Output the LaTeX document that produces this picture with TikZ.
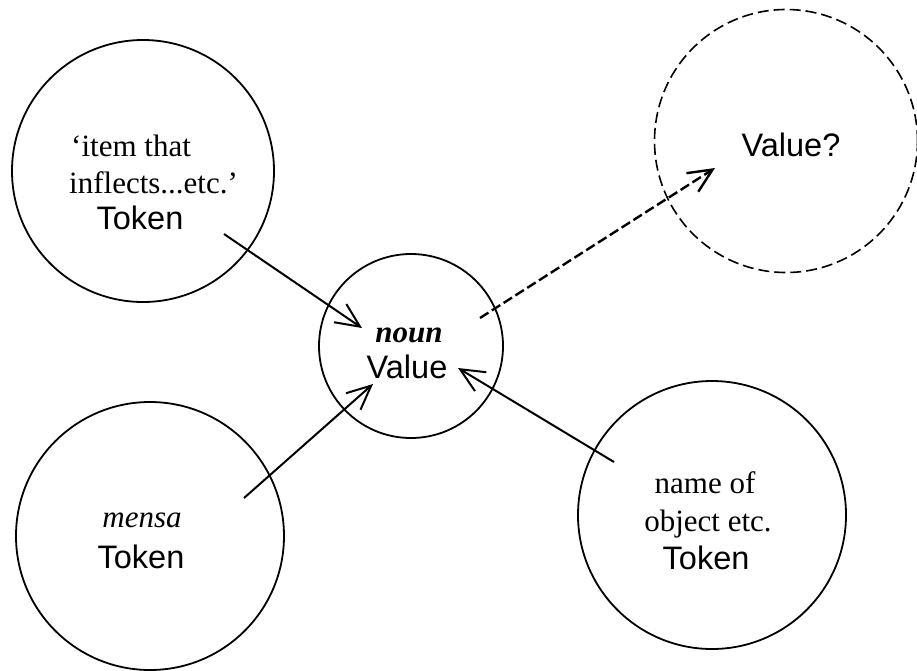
\documentclass[tikz,border=0pt]{standalone}
\usepackage{fontspec}
\setmainfont{Liberation Serif}
\newfontfamily\arialfont{Liberation Sans}
\usetikzlibrary{arrows.meta}
\begin{document}
\begin{tikzpicture}[x=1pt,y=-1pt,
  ring/.style={circle,draw,line width=1.8pt,inner sep=0pt},
  dashring/.style={ring,dash pattern=on 11pt off 5pt,line width=1.6pt},
  serif/.style={font=\fontsize{31}{37}\selectfont,inner sep=0pt,anchor=base},
  sans/.style={font=\arialfont\fontsize{32.5}{37}\selectfont,inner sep=0pt,anchor=base},
  link/.style={line width=2pt,-{Straight Barb[length=24pt,width=22pt]}},
  dashlink/.style={link,line width=2.4pt,dash pattern=on 10pt off 4pt}]
  \useasboundingbox (0,0) rectangle (917,670);

  % the five circles
  \node[ring,minimum size=262pt] (tl) at (143,171) {};
  \node[ring,minimum size=184pt] (mid) at (411,346) {};
  \node[dashring,minimum size=263pt] (tr) at (786,141) {};
  \node[ring,minimum size=268pt] (bl) at (150,536) {};
  \node[ring,minimum size=268pt] (br) at (712,515) {};

  % labels
  \node[serif,anchor=base west] (tl1) at (71,156) {‘item that};
  \node[serif,anchor=base west] (tl2) at (69,193) {inflects...etc.’};
  \node[sans] (tl3) at (140,229) {Token};

  \node[serif,font=\fontsize{31}{37}\selectfont\bfseries\itshape] (m1) at (409,342) {noun};
  \node[sans] (m2) at (407,378) {Value};

  \node[sans] (tr1) at (791,156) {Value?};

  \node[serif,font=\fontsize{31}{37}\selectfont\itshape] (bl1) at (142,527) {mensa};
  \node[sans] (bl2) at (141,568) {Token};

  \node[serif] (br1) at (705,493) {name of};
  \node[serif] (br2) at (708,531) {object etc.};
  \node[sans] (br3) at (706,569) {Token};

  % connector end points
  \coordinate (a0) at ([shift={(81,63)}]tl.center);
  \coordinate (a1) at ([shift={(-49,-18)}]mid.center);
  \coordinate (b0) at ([shift={(94,-38)}]bl.center);
  \coordinate (b1) at ([shift={(-38,38)}]mid.center);
  \coordinate (c0) at ([shift={(-98,-53)}]br.center);
  \coordinate (c1) at ([shift={(47,22)}]mid.center);
  \coordinate (d0) at ([shift={(69,-28)}]mid.center);
  \coordinate (d1) at ([shift={(-71,27)}]tr.center);

  % connectors
  \draw[link] (a0) -- (a1);
  \draw[link] (b0) -- (b1);
  \draw[link] (c0) -- (c1);
  \draw[dashlink] (d0) -- (d1);
\end{tikzpicture}
\end{document}
